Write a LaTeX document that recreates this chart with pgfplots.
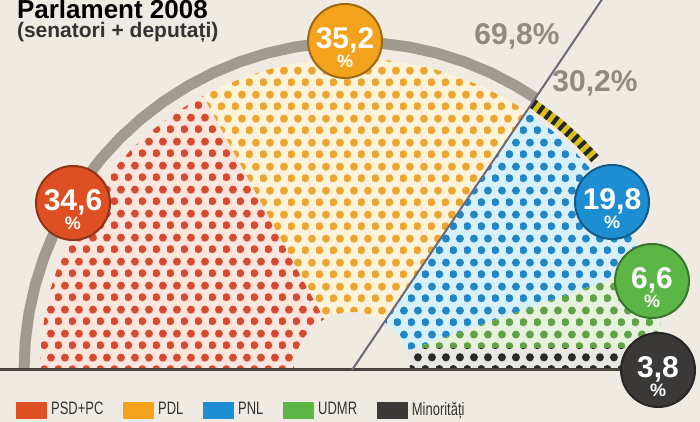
\documentclass[border=0pt]{standalone}
\usepackage{fontspec}
\setmainfont{Liberation Sans}
\newfontfamily\narrow[FakeStretch=0.72]{Liberation Sans}
\usepackage{pgfplots}
\pgfplotsset{compat=1.18}
\usetikzlibrary{patterns.meta}
\definecolor{bg}{HTML}{EFEBE3}
\definecolor{cRed}{HTML}{DE4F24}
\definecolor{cOrange}{HTML}{F3A21B}
\definecolor{cBlue}{HTML}{1E8ED2}
\definecolor{cGreen}{HTML}{5BB646}
\definecolor{cDark}{HTML}{3A3937}
\definecolor{dRed}{HTML}{D84A30}
\definecolor{dOrange}{HTML}{EDA532}
\definecolor{dBlue}{HTML}{2286C4}
\definecolor{dGreen}{HTML}{62A04A}
\definecolor{dDark}{HTML}{2A2A2A}
\definecolor{tRed}{HTML}{FBE6DE}
\definecolor{tOrange}{HTML}{FDF2DA}
\definecolor{tBlue}{HTML}{D8F0FA}
\definecolor{tGreen}{HTML}{E6F2DE}
\definecolor{tDark}{HTML}{E9E7E2}
\definecolor{arcgray}{HTML}{A09A90}
\definecolor{pctgray}{HTML}{8F8A82}
\definecolor{linegray}{HTML}{6E6878}
\definecolor{basecol}{HTML}{4A4440}
\definecolor{stripe}{HTML}{D8C020}
\definecolor{txt}{HTML}{333333}
\tikzdeclarepattern{
  name=seats,
  type=uncolored,
  bounding box={(0pt,0pt) and (6.8pt,11.78pt)},
  tile size={(6.8pt,11.78pt)},
  code={
    \pgfpathcircle{\pgfpoint{1.7pt}{2.945pt}}{2.05pt}
    \pgfpathcircle{\pgfpoint{5.1pt}{8.835pt}}{2.05pt}
    \pgfusepath{fill}
  }
}
\begin{document}
\begin{tikzpicture}
\begin{axis}[
  scale only axis, width=350pt, height=211pt,
  xmin=-352, xmax=348, ymin=-52, ymax=370,
  hide axis, clip=false,
  legend style={draw=none, fill=none, at={(axis cs:-342,-40)}, anchor=west,
    legend columns=-1, font=\narrow\fontsize{9}{10}\selectfont, text=txt,
    /tikz/every even column/.append style={column sep=8pt}},
  legend cell align=left,
]
\coordinate (bl) at (axis cs:-352,-52);
\coordinate (tr) at (axis cs:348,370);
\fill[bg] (axis cs:-352,-52) rectangle (axis cs:348,370);

% PSD+PC 34.6 %
\addplot[forget plot, data cs=polar, draw=none, fill=tRed, postaction={pattern=seats, pattern color=dRed}] coordinates {
(180,312)(175,312)(170,312)(165,312)(160,312)(155,312)(150,312)(145,312)(140,312)(135,312)(130,312)(125,312)(120,312)(118.5,312)
(118.5,58)(125,58)(135,58)(145,58)(155,58)(165,58)(175,58)(180,58)(180,312)};
% PDL 35.2 %
\addplot[forget plot, data cs=polar, draw=none, fill=tOrange, postaction={pattern=seats, pattern color=dOrange}] coordinates {
(118.5,312)(115,312)(110,312)(105,312)(100,312)(95,312)(90,312)(85,312)(80,312)(75,312)(70,312)(65,312)(60,312)(56,312)
(56,58)(65,58)(75,58)(85,58)(95,58)(105,58)(115,58)(118.5,58)(118.5,312)};
% PNL 19.8 %
\addplot[forget plot, data cs=polar, draw=none, fill=tBlue, postaction={pattern=seats, pattern color=dBlue}] coordinates {
(56,312)(50,312)(45,312)(40,312)(35,312)(30,312)(25,312)(20,312)(19.3,312)
(19.3,58)(25,58)(35,58)(45,58)(56,58)(56,312)};
% UDMR 6.6 %
\addplot[forget plot, data cs=polar, draw=none, fill=tGreen, postaction={pattern=seats, pattern color=dGreen}] coordinates {
(4.04,312)(5,312)(10,312)(15,312)(19.3,312)(19.3,66.6)(4.04,312)};
% Minoritati 3.8 %
\addplot[forget plot, data cs=polar, draw=none, fill=tDark, postaction={pattern=seats, pattern color=dDark}] coordinates {
(0,58)(0,312)(2,312)(4.04,312)(19.3,66.6)(19.3,58)(10,58)(0,58)};

% outer arc (69,8 %)
\addplot[forget plot, data cs=polar, arcgray, line width=5.5pt] coordinates {
(180,328)(175,328)(170,328)(165,328)(160,328)(155,328)(150,328)(145,328)(140,328)(135,328)(130,328)(125,328)(120,328)(115,328)(110,328)(105,328)(100,328)(95,328)(90,328)(85,328)(80,328)(75,328)(70,328)(65,328)(60,328)(56,328)};
\addplot[forget plot, data cs=polar, stripe, line width=5pt] coordinates {(56,322)(50,322)(45,322)(41,322)};
\addplot[forget plot, data cs=polar, black!85, line width=5pt, dash pattern=on 2pt off 2.5pt] coordinates {(56,322)(50,322)(45,322)(41,322)};
% baseline and divider
\addplot[forget plot, basecol, line width=1.5pt] coordinates {(-352,0)(300,0)};
\addplot[forget plot, data cs=polar, linegray, line width=1pt] coordinates {(56,0)(56,460)};

% title
\node[anchor=base west, font=\bfseries\fontsize{13}{14}\selectfont, text=black] at (axis cs:-342,351) {Parlament 2008};
\node[anchor=base west, font=\bfseries\fontsize{10.5}{12}\selectfont, text=txt] at (axis cs:-342,332) {(senatori + deputați)};
% totals
\node[font=\bfseries\fontsize{15}{16}\selectfont, text=pctgray] at (axis cs:165,334) {69,8\%};
\node[font=\bfseries\fontsize{15}{16}\selectfont, text=pctgray] at (axis cs:243,287) {30,2\%};

% value badges
\newcommand{\badge}[4]{%
  \node[circle, fill=#1, draw=#1!65!black, line width=1pt, minimum size=37pt, inner sep=0pt] at (axis cs:#2,#3) {};
  \node[anchor=base, text=white, font=\bfseries\fontsize{15}{15}\selectfont] at (axis cs:#2,#3-8) {#4};
  \node[anchor=base, text=white, font=\bfseries\fontsize{9}{9}\selectfont] at (axis cs:#2,#3-27) {\%};
}
\badge{cRed}{-279}{167}{34,6}
\badge{cOrange}{-7}{329}{35,2}
\badge{cBlue}{260}{168}{19,8}
\badge{cGreen}{300}{89}{6,6}
\badge{cDark}{306}{0}{3,8}

% legend
\addlegendimage{legend image code/.code={\fill[cRed] (0pt,-4pt) rectangle (15pt,4pt);}}
\addlegendentry{PSD+PC}
\addlegendimage{legend image code/.code={\fill[cOrange] (0pt,-4pt) rectangle (15pt,4pt);}}
\addlegendentry{PDL}
\addlegendimage{legend image code/.code={\fill[cBlue] (0pt,-4pt) rectangle (15pt,4pt);}}
\addlegendentry{PNL}
\addlegendimage{legend image code/.code={\fill[cGreen] (0pt,-4pt) rectangle (15pt,4pt);}}
\addlegendentry{UDMR}
\addlegendimage{legend image code/.code={\fill[cDark] (0pt,-4pt) rectangle (15pt,4pt);}}
\addlegendentry{Minorități}
\end{axis}
\pgfresetboundingbox
\useasboundingbox (bl) rectangle (tr);
\end{tikzpicture}
\end{document}
